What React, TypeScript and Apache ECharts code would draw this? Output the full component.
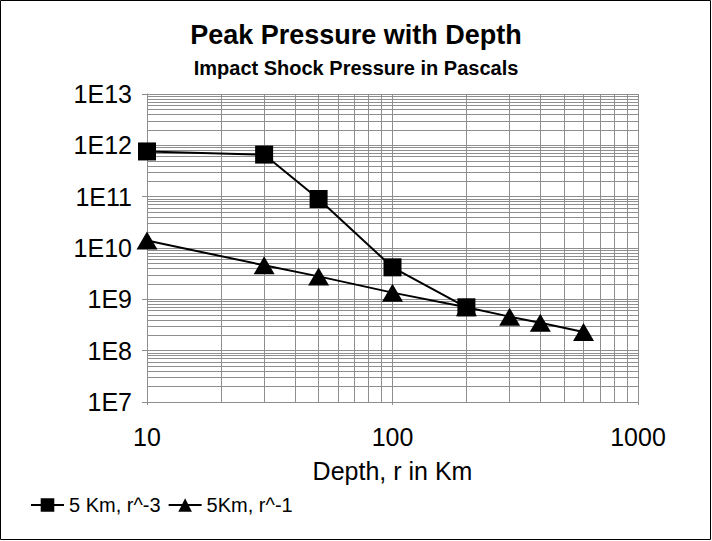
import React, { useEffect, useRef } from "react";
import * as echarts from "echarts";

const titleText = "Peak Pressure with Depth";
const subtitleText = "Impact Shock Pressure in Pascals";
const xAxisName = "Depth, r in Km";

const seriesNames = ["5 Km, r^-3", "5Km, r^-1"];

// depth (km), pressure (Pa)
const depthR3 = [10, 30, 50, 100, 200];
const pressureR3 = [7.6e11, 6.6e11, 9.0e10, 4.2e9, 7.0e8];

const depthR1 = [10, 30, 50, 100, 200, 300, 400, 600];
const pressureR1 = [1.4e10, 4.6e9, 2.8e9, 1.35e9, 7.0e8, 4.6e8, 3.5e8, 2.3e8];

const xMin = 10;
const xMax = 1000;
const yMin = 1e7;
const yMax = 1e13;

// minor grid positions (2..9 within each decade)
const minorSteps = [2, 3, 4, 5, 6, 7, 8, 9];
const xDecades = [10, 100];
const yDecades = [1e7, 1e8, 1e9, 1e10, 1e11, 1e12];

const FONT = "'Liberation Sans', Arial, Helvetica, sans-serif";
const GRID_COLOR = "#8e8e8e";

export default function App() {
  const ref = useRef<HTMLDivElement>(null);

  useEffect(() => {
    if (!ref.current) return;
    const chart = echarts.init(ref.current, undefined, { renderer: "svg" });

    const minorLines: any[] = [];
    xDecades.forEach((d) => minorSteps.forEach((s) => minorLines.push({ xAxis: d * s })));
    yDecades.forEach((d) => minorSteps.forEach((s) => minorLines.push({ yAxis: d * s })));

    const dataR3 = depthR3.map((x, i) => [x, pressureR3[i]]);
    const dataR1 = depthR1.map((x, i) => [x, pressureR1[i]]);

    chart.setOption({
      animation: false,
      backgroundColor: "#ffffff",
      textStyle: { fontFamily: FONT },
      title: [
        {
          text: titleText,
          left: "center",
          top: 16,
          textStyle: { fontFamily: FONT, fontSize: 27, fontWeight: "bold", color: "#000" },
        },
        {
          text: subtitleText,
          left: "center",
          top: 53,
          textStyle: { fontFamily: FONT, fontSize: 20, fontWeight: "bold", color: "#000" },
        },
      ],
      graphic: [
        {
          type: "rect",
          shape: { x: 0.5, y: 0.5, width: 710, height: 539 },
          style: { fill: "none", stroke: "#000", lineWidth: 1 },
          silent: true,
        },
      ],
      legend: {
        data: seriesNames,
        left: 25,
        top: 490,
        itemWidth: 33,
        itemHeight: 17,
        itemGap: 7,
        textStyle: { fontFamily: FONT, fontSize: 20, color: "#000" },
      },
      grid: { left: 147, right: 74, top: 94, bottom: 139, containLabel: false },
      xAxis: {
        type: "log",
        logBase: 10,
        min: xMin,
        max: xMax,
        name: xAxisName,
        nameLocation: "middle",
        nameGap: 56,
        nameTextStyle: { fontFamily: FONT, fontSize: 25, color: "#000" },
        axisLine: { show: true, lineStyle: { color: GRID_COLOR, width: 1 } },
        axisTick: { show: true, length: 3, lineStyle: { color: GRID_COLOR } },
        axisLabel: {
          fontFamily: FONT,
          fontSize: 25,
          color: "#000",
          margin: 22,
          formatter: (v: number) => String(Math.round(v)),
        },
        splitLine: { show: true, lineStyle: { color: GRID_COLOR, width: 1 } },
      },
      yAxis: {
        type: "log",
        logBase: 10,
        min: yMin,
        max: yMax,
        axisLine: { show: true, lineStyle: { color: GRID_COLOR, width: 1 } },
        axisTick: { show: true, length: 5, lineStyle: { color: GRID_COLOR } },
        axisLabel: {
          fontFamily: FONT,
          fontSize: 25,
          color: "#000",
          margin: 15,
          formatter: (v: number) => "1E" + Math.round(Math.log10(v)),
        },
        splitLine: { show: true, lineStyle: { color: GRID_COLOR, width: 1 } },
      },
      series: [
        {
          name: "minor-grid",
          type: "line",
          data: [],
          silent: true,
          z: 1,
          markLine: {
            silent: true,
            z: 1,
            symbol: ["none", "none"],
            label: { show: false },
            emphasis: { disabled: true },
            lineStyle: { color: GRID_COLOR, width: 1, type: "solid" },
            data: minorLines,
          },
        },
        {
          name: seriesNames[0],
          type: "line",
          data: dataR3,
          symbol: "rect",
          symbolSize: 18,
          showAllSymbol: true,
          clip: false,
          z: 4,
          itemStyle: { color: "#000" },
          lineStyle: { color: "#000", width: 2 },
        },
        {
          name: seriesNames[1],
          type: "line",
          data: dataR1,
          symbol: "triangle",
          symbolSize: [21, 18],
          showAllSymbol: true,
          clip: false,
          z: 3,
          itemStyle: { color: "#000" },
          lineStyle: { color: "#000", width: 2 },
        },
      ],
    });

    return () => chart.dispose();
  }, []);

  return (
    <div
      ref={ref}
      style={{ position: "fixed", left: 0, top: 0, width: 712, height: 541 }}
    />
  );
}
